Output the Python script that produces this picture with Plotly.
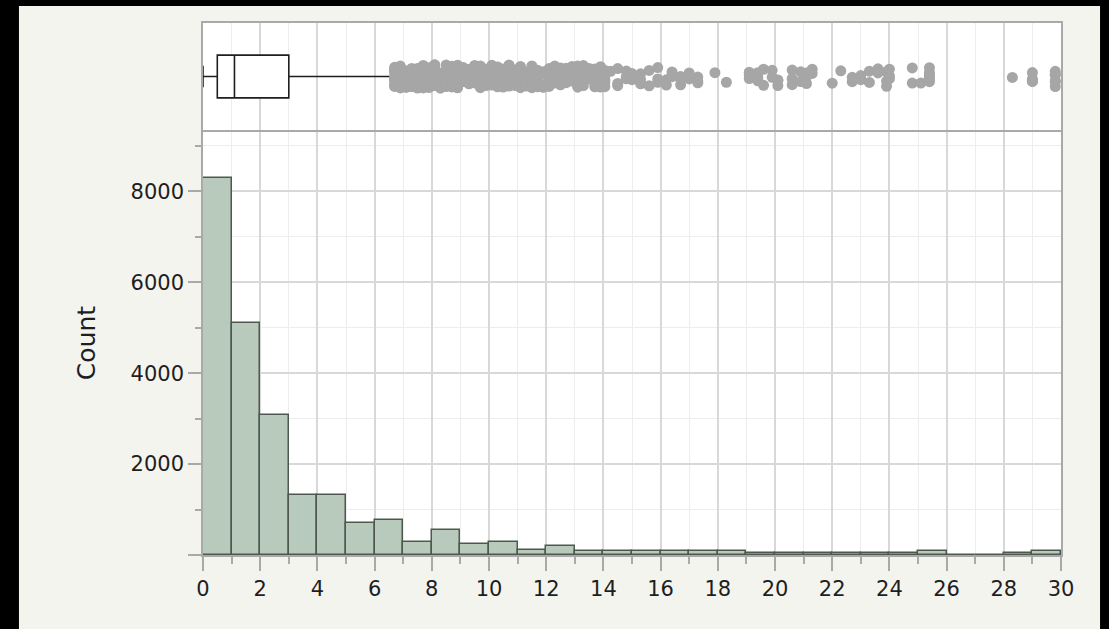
import plotly.graph_objects as go

# ---------------- data ----------------
bin_starts = list(range(30))
bin_counts = [8290, 5110, 3090, 1320, 1320, 710, 765, 290, 555, 245,
              290, 100, 195, 85, 85, 85, 85, 90, 90, 40,
              40, 40, 40, 40, 40, 90, 0, 0, 45, 90]

box_q1 = [0.5]
box_median = [1.1]
box_q3 = [3.0]
box_lowerfence = [0.0]
box_upperfence = [6.6]

# dense run of outliers just beyond the upper whisker
dense_values = [6.7, 6.9, 7.1, 7.3, 7.5, 7.7, 7.9, 8.1, 8.3, 8.5,
                8.7, 8.9, 9.1, 9.3, 9.5, 9.7, 9.9, 10.1, 10.3, 10.5,
                10.7, 10.9, 11.1, 11.3, 11.5, 11.7, 11.9, 12.1, 12.3, 12.5,
                12.7, 12.9, 13.1, 13.3, 13.5, 13.7, 13.9, 14.05]
dense_counts = [10, 10, 10, 10, 10, 9, 9, 9, 9, 9,
                9, 9, 8, 8, 8, 8, 8, 8, 8, 8,
                8, 8, 7, 7, 7, 7, 7, 7, 7, 7,
                6, 6, 6, 6, 6, 6, 6, 6]
# sparse outliers further out
sparse_values = [14.25, 14.5, 14.8, 15.0, 15.3, 15.6, 15.9, 16.2, 16.4, 16.7,
                 17.0, 17.3, 17.9, 18.3, 19.1, 19.4, 19.6, 19.9, 20.1,
                 20.6, 20.9, 21.1, 21.3, 22.0, 22.3, 22.7, 23.0, 23.3, 23.6,
                 23.9, 24.0, 24.8, 25.1, 25.4, 28.3, 29.0, 29.8]
sparse_counts = [1, 3, 3, 2, 3, 2, 3, 2, 3, 3,
                 2, 3, 1, 1, 3, 3, 2, 2, 3,
                 3, 2, 3, 2, 1, 1, 2, 2, 2, 2,
                 3, 3, 2, 1, 6, 1, 6, 6]

x_ticks = list(range(0, 31, 2))
y_ticks = [0, 2000, 4000, 6000, 8000]
y_ticktext = ["", "2000", "4000", "6000", "8000"]

# ---------------- styles ----------------
FONT = "DejaVu Sans, Verdana, sans-serif"
PANEL = "#f4f4ef"
AXIS_LINE = "#a9a9a9"
GRID_MAJOR = "#d8d8d8"
GRID_MINOR = "#ededed"
BAR_FILL = "#b8cabb"
BAR_LINE = "#4e584f"
DOT = "#a6a6a6"


def expand(values, counts):
    return [v for v, c in zip(values, counts) for _ in range(c)]


fig = go.Figure()

fig.add_trace(go.Bar(
    x=bin_starts, y=bin_counts, width=1, offset=0,
    marker=dict(color=BAR_FILL, line=dict(color=BAR_LINE, width=1.5)),
    xaxis="x", yaxis="y", hoverinfo="skip",
))

fig.add_trace(go.Box(
    orientation="h", y=[0],
    q1=box_q1, median=box_median, q3=box_q3,
    lowerfence=box_lowerfence, upperfence=box_upperfence,
    boxpoints=False, width=0.8,
    fillcolor="white", line=dict(color="#1e1e1e", width=1.6),
    xaxis="x2", yaxis="y2", hoverinfo="skip",
))

for vals, cnts, w in ((dense_values, dense_counts, 0.44),
                      (sparse_values, sparse_counts, 0.46)):
    fig.add_trace(go.Box(
        orientation="h", x=expand(vals, cnts), y0=0,
        boxpoints="all", jitter=1, pointpos=0, width=w,
        fillcolor="rgba(0,0,0,0)", line=dict(color="rgba(0,0,0,0)", width=0),
        marker=dict(color=DOT, size=11, opacity=1),
        xaxis="x2", yaxis="y2", hoverinfo="skip",
    ))

# black frame strips around the light panel (outside the plot area)
black = dict(type="rect", xref="paper", yref="paper", layer="above",
             fillcolor="black", line=dict(width=0))
frame = [
    dict(black, x0=-0.30, x1=-0.2145, y0=-0.3, y1=1.3),   # left
    dict(black, x0=1.0455, x1=1.10, y0=-0.3, y1=1.3),     # right
    dict(black, x0=-0.30, x1=1.10, y0=1.032, y1=1.3),     # top
]

fig.update_layout(
    width=1109, height=629,
    margin=dict(l=203, r=48, t=23, b=74),
    paper_bgcolor=PANEL,
    plot_bgcolor="white",
    showlegend=False,
    bargap=0,
    boxmode="overlay",
    font=dict(family=FONT, size=21, color="#1e1e1e"),
    xaxis=dict(
        domain=[0, 1], anchor="y", range=[0, 30],
        tickvals=x_ticks, ticks="outside", ticklen=14, tickwidth=1.5,
        tickcolor=AXIS_LINE,
        showgrid=True, gridcolor=GRID_MAJOR, gridwidth=1.5,
        showline=True, linecolor=AXIS_LINE, linewidth=1.5, mirror=False,
        zeroline=False,
        minor=dict(dtick=1, ticks="outside", ticklen=7, tickwidth=1.5,
                   tickcolor=AXIS_LINE, showgrid=True, gridcolor=GRID_MINOR,
                   gridwidth=1),
    ),
    yaxis=dict(
        domain=[0, 0.797], anchor="x", range=[0, 9330],
        tickvals=y_ticks, ticktext=y_ticktext,
        ticks="outside", ticklen=13, tickwidth=1.5, tickcolor=AXIS_LINE,
        showgrid=True, gridcolor=GRID_MAJOR, gridwidth=1.5,
        showline=True, linecolor=AXIS_LINE, linewidth=1.5, mirror=True,
        zeroline=False,
        title=dict(text="Count", standoff=28),
        minor=dict(dtick=1000, ticks="outside", ticklen=6, tickwidth=1.5,
                   tickcolor=AXIS_LINE, showgrid=True, gridcolor=GRID_MINOR,
                   gridwidth=1),
    ),
    xaxis2=dict(
        domain=[0, 1], anchor="y2", range=[0, 30], matches="x",
        tickvals=x_ticks, showticklabels=False, ticks="",
        showgrid=True, gridcolor=GRID_MAJOR, gridwidth=1.5,
        showline=True, linecolor=AXIS_LINE, linewidth=1.5, mirror=True,
        zeroline=False,
        minor=dict(dtick=1, showgrid=True, gridcolor=GRID_MINOR, gridwidth=1),
    ),
    yaxis2=dict(
        domain=[0.799, 1], anchor="x2", range=[-1, 1],
        showticklabels=False, ticks="", showgrid=False, zeroline=False,
        showline=True, linecolor=AXIS_LINE, linewidth=1.5, mirror=True,
    ),
    shapes=frame,
)

fig.write_html("out.html",
               config={"displayModeBar": False},
               post_script="document.body.style.margin='0';"
                           "document.body.style.overflow='hidden';")
